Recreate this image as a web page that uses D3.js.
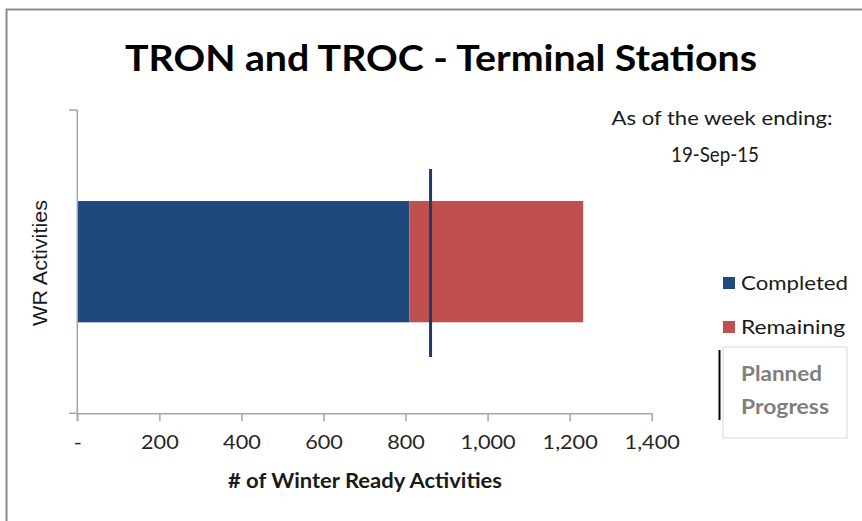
<!DOCTYPE html>
<html><head><meta charset="utf-8">
<script src="https://cdn.jsdelivr.net/npm/d3@7"></script>
<style>body{margin:0;background:#fff}svg{display:block}</style>
</head><body>
<script>
const categories = ["WR Activities"];
const completed = [809];
const remaining = [424];
const planned = [861];
const xTicks = [0, 200, 400, 600, 800, 1000, 1200, 1400];
const xTickLabels = ["-", "200", "400", "600", "800", "1,000", "1,200", "1,400"];
const seriesNames = ["Completed", "Remaining"];
const seriesColors = ["#1f497d", "#c0504d"];

const W = 862, H = 521;
const svg = d3.select("body").append("svg").attr("width", W).attr("height", H);
const font = "Lato, 'Open Sans', sans-serif";

function stretch(sel, factor) {
  sel.each(function () {
    const l = this.getComputedTextLength();
    d3.select(this).attr("textLength", l * factor).attr("lengthAdjust", "spacingAndGlyphs");
  });
}

// outer border (top & left only visible)
svg.append("path").attr("d", "M6.5,521 V9.5 H862").attr("fill", "none").attr("stroke", "#8c8c8c").attr("stroke-width", 2);

const x = d3.scaleLinear().domain([0, 1400]).range([77.3, 651.7]);
const y = d3.scaleBand().domain(categories).range([110, 413.3]).paddingInner(0.6).paddingOuter(0.3);

// bars
const stack = categories.map((c, i) => ({ c, parts: [[0, completed[i]], [completed[i], completed[i] + remaining[i]]] }));
stack.forEach(s => {
  s.parts.forEach((p, k) => {
    svg.append("rect")
      .attr("x", x(p[0])).attr("width", x(p[1]) - x(p[0]))
      .attr("y", y(s.c)).attr("height", y.bandwidth())
      .attr("fill", seriesColors[k]);
  });
});

// planned progress line
planned.forEach((v, i) => {
  svg.append("line").attr("x1", x(v)).attr("x2", x(v))
    .attr("y1", 169).attr("y2", 357)
    .attr("stroke", "#1f3b63").attr("stroke-width", 3);
});

// x axis
const xAxis = svg.append("g").attr("transform", "translate(0,413.3)")
  .call(d3.axisBottom(x).tickValues(xTicks).tickFormat((d, i) => xTickLabels[i]).tickSize(8).tickSizeOuter(0));
xAxis.select(".domain").attr("stroke", "#a6a6a6").attr("stroke-width", 1.5);
xAxis.selectAll(".tick line").attr("stroke", "#a6a6a6").attr("stroke-width", 1.5);
const tickText = xAxis.selectAll(".tick text").attr("font-family", font).attr("font-size", 19).attr("fill", "#262626").attr("dy", "1.3em");
stretch(tickText, 1.14);

// y axis
svg.append("line").attr("x1", 77.3).attr("x2", 77.3).attr("y1", 110).attr("y2", 421).attr("stroke", "#a6a6a6").attr("stroke-width", 1.5);
[110, 413.3].forEach(v => svg.append("line").attr("x1", 69).attr("x2", 77.3).attr("y1", v).attr("y2", v).attr("stroke", "#a6a6a6").attr("stroke-width", 1.5));

// title
svg.append("text").attr("x", 441).attr("y", 71).attr("text-anchor", "middle")
  .attr("font-family", font).attr("font-weight", "bold").attr("font-size", 36)
  .attr("textLength", 632).attr("lengthAdjust", "spacingAndGlyphs")
  .attr("fill", "#000").text("TRON and TROC - Terminal Stations");

// subtitle
svg.append("text").attr("x", 722).attr("y", 125).attr("text-anchor", "middle")
  .attr("font-family", font).attr("font-size", 20).attr("fill", "#1a1a1a")
  .attr("textLength", 221).attr("lengthAdjust", "spacingAndGlyphs").text("As of the week ending:");
svg.append("text").attr("x", 715).attr("y", 162).attr("text-anchor", "middle")
  .attr("font-family", font).attr("font-size", 21).attr("fill", "#1a1a1a")
  .attr("textLength", 88).attr("lengthAdjust", "spacingAndGlyphs").text("19-Sep-15");

// axis titles
svg.append("text").attr("x", 365).attr("y", 488).attr("text-anchor", "middle")
  .attr("font-family", font).attr("font-weight", "bold").attr("font-size", 20).attr("fill", "#1a1a1a")
  .attr("textLength", 274).attr("lengthAdjust", "spacingAndGlyphs").text("# of Winter Ready Activities");
svg.append("text").attr("transform", "translate(47,263) rotate(-90)").attr("text-anchor", "middle")
  .attr("font-family", "'Liberation Sans', Arial, sans-serif").attr("font-size", 20).attr("fill", "#1a1a1a")
  .attr("textLength", 126).attr("lengthAdjust", "spacingAndGlyphs").text(categories[0]);

// legend
const legendWidths = [107, 104];
seriesNames.forEach((n, i) => {
  const ly = 283 + i * 44;
  svg.append("rect").attr("x", 723).attr("y", ly - 6).attr("width", 12).attr("height", 12).attr("fill", seriesColors[i]);
  svg.append("text").attr("x", 741).attr("y", ly + 7).attr("font-family", font).attr("font-size", 20).attr("fill", "#1a1a1a")
    .attr("textLength", legendWidths[i]).attr("lengthAdjust", "spacingAndGlyphs").text(n);
});

// planned progress box
svg.append("rect").attr("x", 723).attr("y", 347).attr("width", 124).attr("height", 91)
  .attr("fill", "#fff").attr("stroke", "#d9d9d9").attr("stroke-width", 1);
svg.append("line").attr("x1", 719.5).attr("x2", 719.5).attr("y1", 350).attr("y2", 420).attr("stroke", "#000").attr("stroke-width", 2);
svg.append("text").attr("x", 741).attr("y", 381).attr("font-family", font).attr("font-weight", "bold").attr("font-size", 20).attr("fill", "#7f7f7f")
  .attr("textLength", 81).attr("lengthAdjust", "spacingAndGlyphs").text("Planned");
svg.append("text").attr("x", 741).attr("y", 414).attr("font-family", font).attr("font-weight", "bold").attr("font-size", 20).attr("fill", "#7f7f7f")
  .attr("textLength", 88).attr("lengthAdjust", "spacingAndGlyphs").text("Progress");
</script>
</body></html>
